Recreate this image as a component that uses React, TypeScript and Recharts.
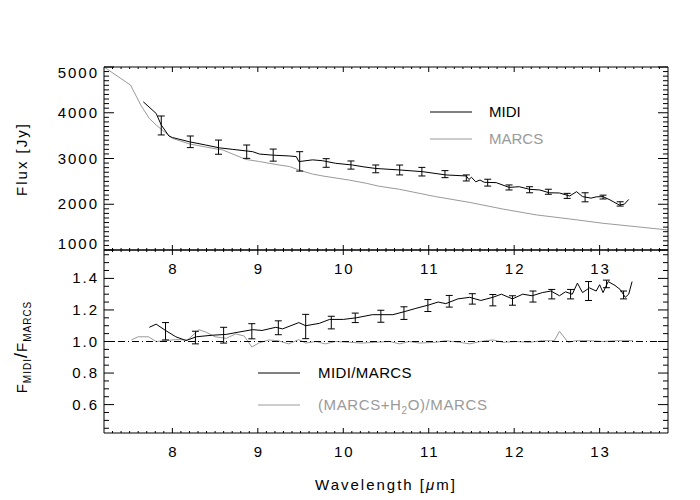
import React from 'react';
import { ComposedChart, Line, Scatter, ErrorBar, XAxis, YAxis, ReferenceLine } from 'recharts';

const FONT = "'Liberation Sans', Arial, Helvetica, sans-serif";
const GRAY = '#9a9a9a';

// ---------- x axis ----------
const xDomain: [number, number] = [7.2, 13.8];
const xMajorTicks = [8, 9, 10, 11, 12, 13];

// ---------- top panel: flux ----------
const fluxDomain: [number, number] = [1000, 5000];
const fluxMajorTicks = [1000, 2000, 3000, 4000, 5000];

const midiWl = [7.66, 7.81, 7.87, 7.96, 8.0, 8.2, 8.39, 8.55, 8.7, 8.94, 9.02, 9.17, 9.37, 9.45, 9.48, 9.64, 9.76, 9.91, 10.11, 10.23, 10.38, 10.66, 10.93, 11.2, 11.44, 11.47, 11.5, 11.55, 11.6, 11.65, 11.79, 11.94, 12.06, 12.18, 12.3, 12.41, 12.53, 12.65, 12.73, 12.8, 12.9, 12.96, 13.04, 13.12, 13.23, 13.29, 13.34];
const midiFlux = [4239, 3985, 3732, 3492, 3459, 3365, 3295, 3233, 3201, 3149, 3097, 3074, 3055, 3041, 2932, 2970, 2951, 2895, 2857, 2820, 2782, 2749, 2712, 2641, 2618, 2540, 2590, 2491, 2530, 2480, 2472, 2369, 2383, 2326, 2312, 2251, 2246, 2181, 2275, 2167, 2134, 2162, 2167, 2096, 1983, 2002, 2105];

const midiErrWl = [7.87, 8.21, 8.54, 8.87, 9.18, 9.49, 9.8, 10.09, 10.38, 10.66, 10.92, 11.19, 11.44, 11.69, 11.94, 12.18, 12.4, 12.62, 12.83, 13.04, 13.24];
const midiErrFlux = [3722, 3365, 3248, 3149, 3074, 2937, 2902, 2857, 2773, 2749, 2712, 2658, 2575, 2472, 2367, 2317, 2273, 2183, 2152, 2157, 2007];
const midiErrSize = [207, 127, 155, 146, 132, 212, 94, 89, 85, 108, 94, 77, 66, 75, 55, 66, 55, 55, 99, 42, 47];

const marcsWl = [7.2, 7.51, 7.63, 7.73, 7.81, 7.88, 8.0, 8.2, 8.47, 8.59, 8.86, 9.02, 9.25, 9.37, 9.48, 9.64, 9.76, 10.07, 10.27, 10.41, 10.66, 11.08, 11.48, 11.87, 12.26, 12.65, 13.04, 13.43, 13.8];
const marcsFlux = [5000, 4606, 4169, 3877, 3732, 3624, 3440, 3318, 3224, 3186, 2980, 2933, 2857, 2825, 2749, 2660, 2618, 2528, 2458, 2397, 2326, 2167, 2040, 1894, 1767, 1678, 1584, 1509, 1438];

// ---------- bottom panel: ratios ----------
const ratioDomain: [number, number] = [0.42, 1.58];
const ratioMajorTicks = [0.6, 0.8, 1.0, 1.2, 1.4];

const ratioWl = [7.73, 7.81, 7.92, 8.04, 8.16, 8.28, 8.47, 8.63, 8.78, 8.94, 9.05, 9.21, 9.29, 9.48, 9.56, 9.72, 9.84, 10.0, 10.15, 10.34, 10.44, 10.58, 10.72, 10.85, 10.99, 11.11, 11.2, 11.34, 11.48, 11.61, 11.75, 11.85, 11.98, 12.1, 12.21, 12.33, 12.43, 12.53, 12.6, 12.68, 12.74, 12.8, 12.88, 12.96, 13.0, 13.04, 13.1, 13.18, 13.24, 13.3, 13.34, 13.38];
const ratioVal = [1.09, 1.11, 1.07, 1.03, 1.006, 1.03, 1.04, 1.045, 1.06, 1.075, 1.07, 1.09, 1.08, 1.12, 1.1, 1.115, 1.14, 1.14, 1.15, 1.17, 1.17, 1.17, 1.19, 1.21, 1.23, 1.25, 1.24, 1.27, 1.28, 1.26, 1.28, 1.3, 1.27, 1.3, 1.29, 1.31, 1.32, 1.29, 1.315, 1.3, 1.37, 1.31, 1.34, 1.32, 1.36, 1.31, 1.38, 1.355, 1.33, 1.28, 1.3, 1.38];

const ratioErrWl = [7.92, 8.27, 8.6, 8.93, 9.24, 9.56, 9.86, 10.14, 10.44, 10.71, 10.99, 11.24, 11.51, 11.75, 11.98, 12.22, 12.44, 12.66, 12.87, 13.08, 13.28];
const ratioErrVal = [1.065, 1.025, 1.04, 1.065, 1.087, 1.095, 1.12, 1.15, 1.16, 1.18, 1.228, 1.255, 1.27, 1.262, 1.26, 1.285, 1.3, 1.3, 1.32, 1.365, 1.295];
const ratioErrSize = [0.055, 0.04, 0.05, 0.048, 0.044, 0.077, 0.04, 0.03, 0.038, 0.04, 0.038, 0.037, 0.033, 0.036, 0.03, 0.035, 0.03, 0.03, 0.06, 0.024, 0.025];

const h2oWl = [7.52, 7.6, 7.72, 7.81, 7.92, 8.04, 8.18, 8.31, 8.39, 8.5, 8.63, 8.74, 8.84, 8.93, 9.01, 9.13, 9.24, 9.36, 9.48, 9.56, 9.68, 9.79, 9.91, 10.07, 10.22, 10.38, 10.54, 10.66, 10.77, 10.89, 11.08, 11.2, 11.36, 11.48, 11.6, 11.75, 11.87, 12.02, 12.18, 12.33, 12.47, 12.53, 12.63, 12.72, 12.88, 13.04, 13.2, 13.39];
const h2oVal = [1.01, 1.03, 1.03, 1.0, 1.005, 1.012, 1.01, 1.075, 1.06, 1.03, 1.02, 1.048, 1.035, 0.965, 0.99, 1.01, 1.005, 0.985, 1.012, 0.99, 1.0, 0.985, 1.0, 0.995, 0.99, 0.995, 1.0, 0.985, 1.0, 0.99, 0.995, 1.005, 0.995, 0.985, 1.0, 1.01, 0.995, 1.0, 0.995, 1.005, 1.005, 1.065, 0.995, 1.005, 1.005, 1.0, 1.005, 1.005];

const legendTop = ['MIDI', 'MARCS'];

// ---------- build tables ----------
const zip = (xs: number[], ys: number[]) => xs.map((x, i) => ({ x, y: ys[i] }));
const zipErr = (xs: number[], ys: number[], es: number[]) => xs.map((x, i) => ({ x, y: ys[i], err: es[i] }));

const midiData = zip(midiWl, midiFlux);
const marcsData = zip(marcsWl, marcsFlux);
const midiErrData = zipErr(midiErrWl, midiErrFlux, midiErrSize);
const ratioData = zip(ratioWl, ratioVal);
const h2oData = zip(h2oWl, h2oVal);
const ratioErrData = zipErr(ratioErrWl, ratioErrVal, ratioErrSize);

// minor + major tick positions
const range = (a: number, b: number, step: number) => {
  const out: number[] = [];
  const n = Math.round((b - a) / step);
  for (let i = 0; i <= n; i++) out.push(+(a + i * step).toFixed(6));
  return out;
};
const xTicksAll = range(7.3, 13.7, 0.1);
const fluxTicksAll = range(1000, 5000, 100);
const ratioTicksAll = range(0.45, 1.55, 0.05);

const isIn = (v: number, arr: number[]) => arr.some((m) => Math.abs(m - v) < 1e-6);

const textStyle = { fontFamily: FONT, fontSize: 15, letterSpacing: 2 } as const;

const makeXTick = (side: 'top' | 'bottom', labeled: boolean) => (p: any) => {
  const { x, y, payload } = p;
  const v = payload.value;
  const major = isIn(v, xMajorTicks);
  const len = major ? 5 : 2;
  const dir = side === 'bottom' ? -1 : 1;
  return (
    <g>
      <line x1={x} x2={x} y1={y} y2={y + dir * len} stroke="#000" strokeWidth={1} />
      {labeled && major ? (
        <text x={x + 1} y={y + 24} textAnchor="middle" fill="#000" {...textStyle}>
          {String(v)}
        </text>
      ) : null}
    </g>
  );
};

const makeYTick = (side: 'left' | 'right', majors: number[], labeled: boolean, fmt: (v: number) => string, lowVal?: number, highVal?: number) => (p: any) => {
  const { x, y, payload } = p;
  const v = payload.value;
  const major = isIn(v, majors);
  const len = major ? 10 : 5;
  const dir = side === 'left' ? 1 : -1;
  let baseline = y + 5;
  if (lowVal !== undefined && Math.abs(v - lowVal) < 1e-6) baseline = y - 1;
  if (highVal !== undefined && Math.abs(v - highVal) < 1e-6) baseline = y + 11;
  return (
    <g>
      <line x1={x} x2={x + dir * len} y1={y} y2={y} stroke="#000" strokeWidth={1} />
      {labeled && major ? (
        <text x={x - 5} y={baseline} textAnchor="end" fill="#000" {...textStyle}>
          {fmt(v)}
        </text>
      ) : null}
    </g>
  );
};

const Empty = () => <g />;

const commonX = {
  type: 'number' as const,
  dataKey: 'x',
  domain: xDomain,
  allowDataOverflow: true,
  ticks: xTicksAll,
  interval: 0 as const,
  height: 1,
  tickSize: 0,
  tickMargin: 0,
  tickLine: false,
  axisLine: { stroke: '#000', strokeWidth: 1 },
};

const commonY = {
  type: 'number' as const,
  allowDataOverflow: true,
  interval: 0 as const,
  width: 1,
  tickSize: 0,
  tickMargin: 0,
  tickLine: false,
  axisLine: { stroke: '#000', strokeWidth: 1 },
};

export default function App() {
  const W = 700;
  const H = 500;
  return (
    <div style={{ position: 'absolute', left: 0, top: 0, width: W, height: H, background: '#fff' }}>
      {/* top panel */}
      <div style={{ position: 'absolute', left: 0, top: 0 }}>
        <ComposedChart width={W} height={H} margin={{ top: 66, right: 31, bottom: 249, left: 103 }}>
          <XAxis xAxisId="b" orientation="bottom" {...commonX} tick={makeXTick('bottom', true)} />
          <XAxis xAxisId="t" orientation="top" {...commonX} tick={makeXTick('top', false)} />
          <YAxis
            yAxisId="l"
            orientation="left"
            dataKey="y"
            domain={fluxDomain}
            ticks={fluxTicksAll}
            {...commonY}
            tick={makeYTick('left', fluxMajorTicks, true, (v) => String(v), 1000, 5000)}
          />
          <YAxis
            yAxisId="r"
            orientation="right"
            dataKey="y"
            domain={fluxDomain}
            ticks={fluxTicksAll}
            {...commonY}
            tick={makeYTick('right', fluxMajorTicks, false, (v) => String(v))}
          />
          <Line xAxisId="b" yAxisId="l" data={marcsData} dataKey="y" type="linear" stroke={GRAY} strokeWidth={1} dot={false} isAnimationActive={false} />
          <Line xAxisId="b" yAxisId="l" data={midiData} dataKey="y" type="linear" stroke="#000" strokeWidth={1} dot={false} isAnimationActive={false} />
          <Scatter xAxisId="b" yAxisId="l" data={midiErrData} dataKey="y" shape={Empty} isAnimationActive={false}>
            <ErrorBar dataKey="err" direction="y" width={3.5} stroke="#000" strokeWidth={1} isAnimationActive={false} />
          </Scatter>
        </ComposedChart>
      </div>

      {/* bottom panel */}
      <div style={{ position: 'absolute', left: 0, top: 0 }}>
        <ComposedChart width={W} height={H} margin={{ top: 249, right: 31, bottom: 66, left: 103 }}>
          <XAxis xAxisId="b" orientation="bottom" {...commonX} tick={makeXTick('bottom', true)} />
          <XAxis xAxisId="t" orientation="top" {...commonX} tick={makeXTick('top', false)} />
          <YAxis
            yAxisId="l"
            orientation="left"
            dataKey="y"
            domain={ratioDomain}
            ticks={ratioTicksAll}
            {...commonY}
            tick={makeYTick('left', ratioMajorTicks, true, (v) => v.toFixed(1))}
          />
          <YAxis
            yAxisId="r"
            orientation="right"
            dataKey="y"
            domain={ratioDomain}
            ticks={ratioTicksAll}
            {...commonY}
            tick={makeYTick('right', ratioMajorTicks, false, (v) => v.toFixed(1))}
          />
          <Line xAxisId="b" yAxisId="l" data={h2oData} dataKey="y" type="linear" stroke={GRAY} strokeWidth={1} dot={false} isAnimationActive={false} />
          <ReferenceLine xAxisId="b" yAxisId="l" y={1} stroke="#000" strokeWidth={1} strokeDasharray="7 3 1 3" />
          <Line xAxisId="b" yAxisId="l" data={ratioData} dataKey="y" type="linear" stroke="#000" strokeWidth={1} dot={false} isAnimationActive={false} />
          <Scatter xAxisId="b" yAxisId="l" data={ratioErrData} dataKey="y" shape={Empty} isAnimationActive={false}>
            <ErrorBar dataKey="err" direction="y" width={3.5} stroke="#000" strokeWidth={1} isAnimationActive={false} />
          </Scatter>
        </ComposedChart>
      </div>

      {/* legends and axis titles */}
      <svg width={W} height={H} style={{ position: 'absolute', left: 0, top: 0, pointerEvents: 'none' }}>
        <line x1={430} x2={472} y1={112} y2={112} stroke="#000" strokeWidth={1} />
        <text x={489} y={117} fill="#000" fontFamily={FONT} fontSize={15}>{legendTop[0]}</text>
        <line x1={430} x2={472} y1={139} y2={139} stroke={GRAY} strokeWidth={1} />
        <text x={489} y={144} fill={GRAY} fontFamily={FONT} fontSize={15}>{legendTop[1]}</text>

        <line x1={258} x2={300} y1={373} y2={373} stroke="#000" strokeWidth={1} />
        <text x={318} y={378} fill="#000" fontFamily={FONT} fontSize={15} letterSpacing={0.4}>MIDI/MARCS</text>
        <line x1={258} x2={300} y1={405} y2={405} stroke={GRAY} strokeWidth={1} />
        <text x={318} y={410} fill={GRAY} fontFamily={FONT} fontSize={15} letterSpacing={0.6}>
          (MARCS+H<tspan dy={4} fontSize={10}>2</tspan>
          <tspan dy={-4}>O)/MARCS</tspan>
        </text>

        <text
          x={27}
          y={159}
          transform="rotate(-90 27 159)"
          textAnchor="middle"
          fill="#000"
          fontFamily={FONT}
          fontSize={15}
          letterSpacing={2}
        >
          Flux [Jy]
        </text>
        <text
          x={27}
          y={347}
          transform="rotate(-90 27 347)"
          textAnchor="middle"
          fill="#000"
          fontFamily={FONT}
          fontSize={15}
          letterSpacing={1}
        >
          F<tspan dy={4} fontSize={10}>MIDI</tspan>
          <tspan dy={-4} fontSize={18}>/</tspan>F<tspan dy={4} fontSize={10}>MARCS</tspan>
        </text>
        <text x={386} y={490} textAnchor="middle" fill="#000" fontFamily={FONT} fontSize={15} letterSpacing={2}>
          Wavelength [<tspan fontStyle="italic">μ</tspan>m]
        </text>
      </svg>
    </div>
  );
}
